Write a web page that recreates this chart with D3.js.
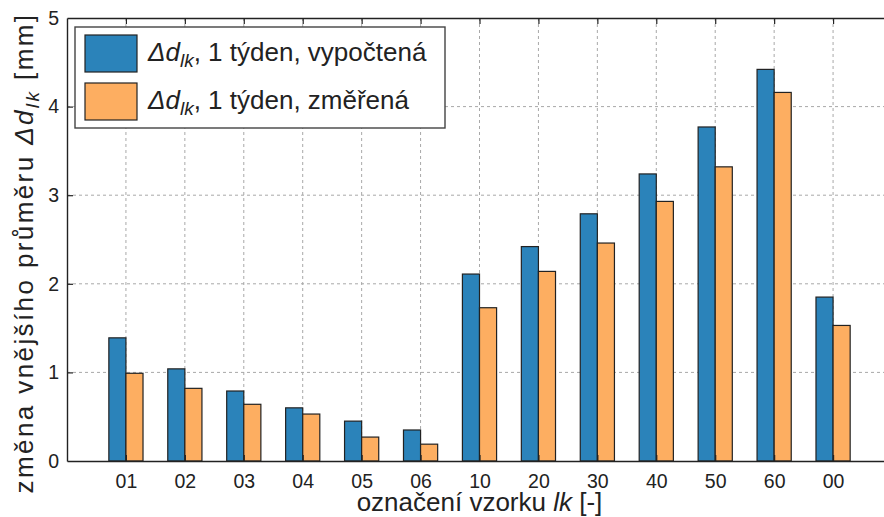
<!DOCTYPE html>
<html>
<head>
<meta charset="utf-8">
<script src="https://cdn.jsdelivr.net/npm/d3@7"></script>
<style>
  body { margin: 0; background: #fff; }
  svg { font-family: "Liberation Sans", Arial, sans-serif; }
</style>
</head>
<body>
<div id="chart"></div>
<script>
var categories = ["01", "02", "03", "04", "05", "06", "10", "20", "30", "40", "50", "60", "00"];
var computed = [1.39, 1.04, 0.79, 0.60, 0.45, 0.35, 2.11, 2.42, 2.79, 3.24, 3.77, 4.42, 1.85];
var measured = [0.99, 0.82, 0.64, 0.53, 0.27, 0.19, 1.73, 2.14, 2.46, 2.93, 3.32, 4.16, 1.53];
var yTicks = [0, 1, 2, 3, 4, 5];
var seriesNames = ["vypočtená", "změřená"];

var width = 884, height = 517;
var margin = {left: 67, top: 18, right: -8, bottom: 56};
var plotW = width - margin.left - margin.right;
var plotH = height - margin.top - margin.bottom;

var svg = d3.select("#chart").append("svg")
    .attr("width", width)
    .attr("height", height);

var g = svg.append("g")
    .attr("transform", "translate(" + margin.left + "," + margin.top + ")");

// positions 1..13, one empty step on each side (right edge is cut off)
var x = d3.scaleLinear().domain([0, categories.length + 1]).range([0, plotW]);
var y = d3.scaleLinear().domain([0, 5]).range([plotH, 0]);
var step = x(1) - x(0);
var barW = step * 0.29;

var colors = ["#2b83ba", "#fdae61"];

// grid
g.selectAll(".gx").data(categories).enter().append("line")
    .attr("x1", function(d, i) { return x(i + 1); })
    .attr("x2", function(d, i) { return x(i + 1); })
    .attr("y1", 0).attr("y2", plotH)
    .attr("stroke", "#a8a8a8").attr("stroke-dasharray", "3,3").attr("stroke-width", 1);
g.selectAll(".gy").data(yTicks.slice(1, -1)).enter().append("line")
    .attr("x1", 0).attr("x2", plotW)
    .attr("y1", function(d) { return y(d); })
    .attr("y2", function(d) { return y(d); })
    .attr("stroke", "#a8a8a8").attr("stroke-dasharray", "3,3").attr("stroke-width", 1);

// bars
[computed, measured].forEach(function(vals, s) {
    g.selectAll(".bar" + s).data(vals).enter().append("rect")
        .attr("x", function(d, i) { return x(i + 1) + (s === 0 ? -barW : 0); })
        .attr("y", function(d) { return y(d); })
        .attr("width", barW)
        .attr("height", function(d) { return plotH - y(d); })
        .attr("fill", colors[s])
        .attr("stroke", "#222")
        .attr("stroke-width", 1.2);
});

// axes
var xAxis = d3.axisBottom(x)
    .tickValues(d3.range(1, categories.length + 1))
    .tickFormat(function(d) { return categories[d - 1]; })
    .tickSizeInner(-6).tickSizeOuter(0).tickPadding(13);
var xg = g.append("g").attr("transform", "translate(0," + plotH + ")").call(xAxis);

var xTop = d3.axisTop(x)
    .tickValues(d3.range(1, categories.length + 1))
    .tickFormat("")
    .tickSizeInner(-6).tickSizeOuter(0);
var xtg = g.append("g").call(xTop);

var yAxis = d3.axisLeft(y).tickValues(yTicks).tickFormat(d3.format("d"))
    .tickSizeInner(-6).tickSizeOuter(0).tickPadding(8);
var yg = g.append("g").call(yAxis);

[xg, xtg, yg].forEach(function(a) {
    a.select(".domain").attr("stroke", "#222").attr("stroke-width", 1.4);
    a.selectAll(".tick line").attr("stroke", "#222").attr("stroke-width", 1.2);
    a.selectAll("text").attr("font-size", 19.5).attr("fill", "#222")
        .attr("font-family", "Liberation Sans, Arial, sans-serif");
});
yg.selectAll(".tick").filter(function(d) { return d === 0 || d === 5; })
    .select("line").remove();

// axis titles
var xt = svg.append("text")
    .attr("x", margin.left + plotW / 2).attr("y", 511)
    .attr("text-anchor", "middle")
    .attr("font-size", 26).attr("fill", "#222");
xt.append("tspan").text("označení vzorku ");
xt.append("tspan").attr("font-style", "italic").text("lk");
xt.append("tspan").text(" [-]");

var yt = svg.append("text")
    .attr("transform", "translate(33,253) rotate(-90)")
    .attr("text-anchor", "middle")
    .attr("letter-spacing", 2.4)
    .attr("font-size", 26).attr("fill", "#222");
yt.append("tspan").text("změna vnějšího průměru ");
yt.append("tspan").attr("font-style", "italic").text("Δd");
yt.append("tspan").attr("font-style", "italic").attr("font-size", 19).attr("dy", 6).text("lk");
yt.append("tspan").attr("dy", -6).text(" [mm]");

// legend
var lg = svg.append("g").attr("transform", "translate(75,27)");
lg.append("rect").attr("width", 370).attr("height", 101)
    .attr("fill", "#fff").attr("stroke", "#444").attr("stroke-width", 1.4);
seriesNames.forEach(function(name, i) {
    var row = lg.append("g").attr("transform", "translate(0," + (8 + i * 48) + ")");
    row.append("rect").attr("x", 10).attr("width", 52).attr("height", 37)
        .attr("fill", colors[i]).attr("stroke", "#222").attr("stroke-width", 1.2);
    var t = row.append("text").attr("x", 73).attr("y", 26)
        .attr("font-size", 26).attr("fill", "#222");
    t.append("tspan").attr("font-style", "italic").text("Δd");
    t.append("tspan").attr("font-style", "italic").attr("font-size", 19).attr("dy", 6).text("lk");
    t.append("tspan").attr("dy", -6).text(", 1 týden, " + name);
});
</script>
</body>
</html>
